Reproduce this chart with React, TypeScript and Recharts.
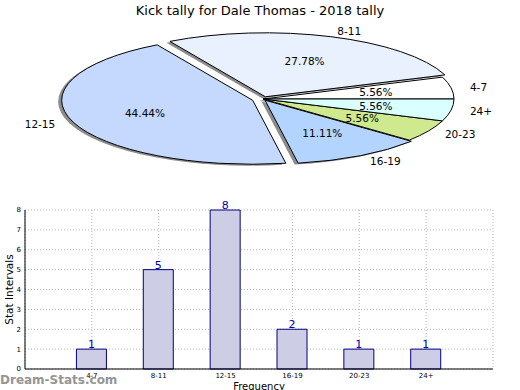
import React from 'react';
import { PieChart, Pie, BarChart, Bar, XAxis, YAxis, CartesianGrid, LabelList } from 'recharts';

const categories = ['4-7', '8-11', '12-15', '16-19', '20-23', '24+'];
const counts = [1, 5, 8, 2, 1, 1];
const xPositions = [1, 2, 3, 4, 5, 6];
const yTicks = [0, 1, 2, 3, 4, 5, 6, 7, 8];
const titleText = 'Kick tally for Dale Thomas - 2018 tally';
const yLabelText = 'Stat Intervals';
const xLabelText = 'Frequency';
const watermarkText = 'Dream-Stats.com';

// styles (kept apart from the data)
const pieColors = ['#ffffff', '#e9f0fe', '#c5d9fe', '#b3d4fe', '#cfe98f', '#d9ffff'];
const explodePx = [0, 7, 11, 4, 0, 0];

const pieData = categories.map((name, i) => ({ name, value: counts[i], idx: i }));
const barData = categories.map((name, i) => ({ name, value: counts[i], pos: xPositions[i] }));

const FONT = '"DejaVu Sans", Verdana, sans-serif';
const KY = 0.335;
const RAD = Math.PI / 180;

function ellPt(cx: number, cy: number, r: number, deg: number): [number, number] {
  return [cx + r * Math.cos(deg * RAD), cy - r * KY * Math.sin(deg * RAD)];
}

function wedgePath(cx: number, cy: number, r: number, a0: number, a1: number) {
  const s = Math.min(a0, a1);
  const e = Math.max(a0, a1);
  const [x0, y0] = ellPt(cx, cy, r, s);
  const [x1, y1] = ellPt(cx, cy, r, e);
  const large = e - s > 180 ? 1 : 0;
  return `M${cx},${cy} L${x0},${y0} A${r},${r * KY} 0 ${large} 0 ${x1},${y1} Z`;
}

function offsetFor(props: any) {
  const idx = props.payload?.idx ?? props.index ?? 0;
  const e = explodePx[idx] || 0;
  const mid = props.midAngle;
  return { dx: e * Math.cos(mid * RAD), dy: -e * KY * Math.sin(mid * RAD), idx };
}

const renderShadow = (props: any) => {
  const { cx, cy, outerRadius, startAngle, endAngle } = props;
  const { dx, dy } = offsetFor(props);
  return (
    <path
      key={`sh-${props.index}`}
      d={wedgePath(cx + dx - 3.5, cy + dy + 1.4, outerRadius, startAngle, endAngle)}
      fill="#8c8c8c"
      stroke="none"
    />
  );
};

const renderWedge = (props: any) => {
  const { cx, cy, outerRadius, startAngle, endAngle } = props;
  const { dx, dy, idx } = offsetFor(props);
  return (
    <path
      key={`w-${props.index}`}
      d={wedgePath(cx + dx, cy + dy, outerRadius, startAngle, endAngle)}
      fill={pieColors[idx]}
      stroke="#000"
      strokeWidth={1}
      strokeLinejoin="round"
    />
  );
};

const renderText = (props: any) => {
  const { cx, cy, outerRadius, midAngle, percent, payload } = props;
  const { dx, dy } = offsetFor(props);
  const [px, py] = ellPt(cx + dx, cy + dy, outerRadius * 0.6, midAngle);
  const [lx, ly] = ellPt(cx + dx, cy + dy, outerRadius * 1.1, midAngle);
  const right = Math.cos(midAngle * RAD) >= 0;
  return (
    <g key={`t-${props.index}`}>
      <text x={px} y={py} textAnchor="middle" dominantBaseline="central" fontSize={10.5} fill="#000" fontFamily={FONT}>
        {`${(percent * 100).toFixed(2)}%`}
      </text>
      <text x={lx} y={ly} textAnchor={right ? 'start' : 'end'} dominantBaseline="central" fontSize={10.5} fill="#000" fontFamily={FONT}>
        {payload.name}
      </text>
    </g>
  );
};

export default function App() {
  return (
    <div style={{ position: 'absolute', left: 0, top: 0, width: 520, height: 390, background: '#fff', fontFamily: FONT, overflow: 'hidden' }}>
      <div style={{ position: 'absolute', left: 0, top: 0, width: 520, height: 200 }}>
        <PieChart width={520} height={200} margin={{ top: 0, right: 0, bottom: 0, left: 0 }}>
          <text x={260} y={10} textAnchor="middle" dominantBaseline="central" fontSize={13} fill="#000" fontFamily={FONT}>
            {titleText}
          </text>
          <Pie data={pieData} dataKey="value" nameKey="name" cx={263} cy={99} outerRadius={191} startAngle={0} endAngle={360}
            fill="transparent" stroke="none" label={renderShadow} labelLine={false} isAnimationActive={false} />
          <Pie data={pieData} dataKey="value" nameKey="name" cx={263} cy={99} outerRadius={191} startAngle={0} endAngle={360}
            fill="transparent" stroke="none" label={renderWedge} labelLine={false} isAnimationActive={false} />
          <Pie data={pieData} dataKey="value" nameKey="name" cx={263} cy={99} outerRadius={191} startAngle={0} endAngle={360}
            fill="transparent" stroke="none" label={renderText} labelLine={false} isAnimationActive={false} />
        </PieChart>
      </div>
      <div style={{ position: 'absolute', left: 0, top: 0, width: 520, height: 390 }}>
        <BarChart width={520} height={390} data={barData} margin={{ top: 210, right: 27, left: 5, bottom: 6 }}>
          <CartesianGrid stroke="#b4b4b4" strokeDasharray="1 2" />
          <XAxis dataKey="pos" type="number" domain={[0, 7]} ticks={xPositions} interval={0}
            tickFormatter={(v: number) => categories[v - 1] ?? ''}
            tick={{ fontSize: 7, fill: '#000', fontFamily: FONT }} tickLine={false} tickSize={2} tickMargin={2}
            axisLine={{ stroke: '#000' }} height={15}
            label={{ value: xLabelText, position: 'bottom', offset: -1, fontSize: 10, fill: '#000' }} />
          <XAxis xAxisId="top" orientation="top" type="number" domain={[0, 7]} dataKey="pos" height={0}
            tick={false} tickLine={false} axisLine={{ stroke: '#000' }} />
          <YAxis type="number" domain={[0, 8]} ticks={yTicks} interval={0} width={20}
            tick={{ fontSize: 7, fill: '#000', fontFamily: FONT }} tickLine={false} tickSize={2} tickMargin={2}
            axisLine={{ stroke: '#000' }}
            label={{ value: yLabelText, angle: -90, position: 'insideLeft', offset: 4, fontSize: 10.5, fill: '#000', style: { textAnchor: 'middle' } }} />
          <YAxis yAxisId="right" orientation="right" type="number" domain={[0, 8]} width={0}
            tick={false} tickLine={false} axisLine={{ stroke: '#000' }} />
          <Bar dataKey="value" barSize={30} fill="#cdcde6" stroke="#000080" strokeWidth={1} isAnimationActive={false}>
            <LabelList dataKey="value" position="top" offset={1} fill="#0000b0" fontSize={11} fontFamily={FONT} />
          </Bar>
        </BarChart>
      </div>
      <div style={{ position: 'absolute', left: 0, top: 372, fontSize: 12, color: '#8a8a8a', fontFamily: FONT, fontWeight: 600, opacity: 0.9, lineHeight: '16px', whiteSpace: 'nowrap' }}>
        {watermarkText}
      </div>
    </div>
  );
}
